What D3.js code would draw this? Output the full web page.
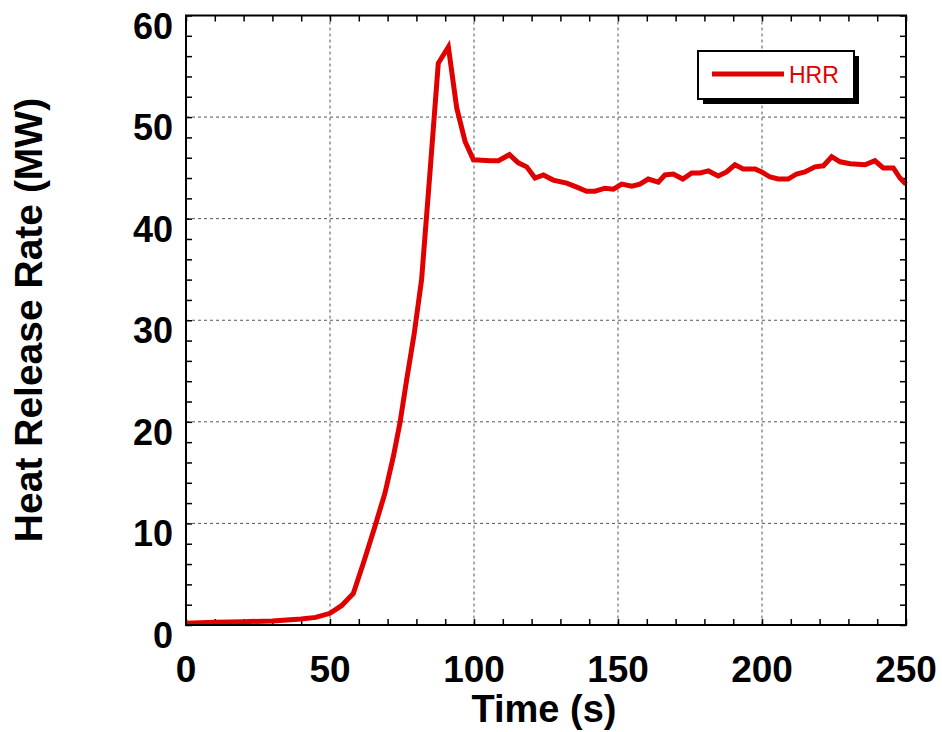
<!DOCTYPE html>
<html>
<head>
<meta charset="utf-8">
<script src="https://cdn.jsdelivr.net/npm/d3@7"></script>
<style>
  html, body { margin: 0; padding: 0; background: #fff; }
  svg { display: block; }
  text { font-family: Arial, "Liberation Sans", Helvetica, sans-serif; }
</style>
</head>
<body>
<svg id="chart" width="942" height="732"></svg>
<script>
// ---- data ----
const seriesName = "HRR";
const timeS = [0, 10, 20, 30, 40, 45, 50, 54, 58.1, 61.6, 65.6, 69.1, 72, 74.3, 76.6, 79.2, 81.8, 84.7, 87.6, 91.1, 94, 96.9, 99.8, 102.7, 105.6, 108.5, 112.3, 115.4, 118.3, 121.2, 124.1, 127.5, 132.2, 135.7, 139.1, 142, 145.5, 148.4, 151.3, 154.8, 157.6, 160.5, 164, 166.3, 169.2, 172.5, 175.6, 178.5, 181.4, 184.8, 187.7, 190.6, 193.5, 197.6, 199.9, 202.8, 205.7, 209.1, 212, 214.9, 218.4, 221.3, 224.2, 227.1, 230.6, 235.8, 239.2, 242.1, 245.6, 247.9, 250];
const hrrMW = [0.17, 0.27, 0.33, 0.4, 0.6, 0.75, 1.15, 1.9, 3.1, 6.1, 9.7, 13.0, 16.6, 19.9, 24.1, 28.6, 34.0, 44.5, 55.3, 56.9, 50.9, 47.6, 45.8, 45.75, 45.7, 45.7, 46.3, 45.5, 45.1, 44.0, 44.3, 43.8, 43.5, 43.1, 42.7, 42.7, 43.0, 42.9, 43.4, 43.2, 43.4, 43.9, 43.6, 44.3, 44.4, 43.9, 44.5, 44.5, 44.7, 44.2, 44.6, 45.3, 44.9, 44.9, 44.6, 44.1, 43.9, 43.9, 44.4, 44.6, 45.1, 45.2, 46.1, 45.6, 45.4, 45.3, 45.7, 45.0, 45.0, 44.0, 43.4];
const xTicks = [0, 50, 100, 150, 200, 250];
const yTicks = [0, 10, 20, 30, 40, 50, 60];
const xMinor = d3.range(0, 251, 10);
const yMinor = d3.range(0, 61, 2);

// ---- layout ----
const L = 186, R = 906, T = 15.5, B = 625;
const svg = d3.select("#chart");
const x = d3.scaleLinear().domain([0, 250]).range([L, R]);
const y = d3.scaleLinear().domain([0, 60]).range([B, T]);

// grid
const grid = svg.append("g").attr("stroke", "#555").attr("stroke-width", 1).attr("stroke-dasharray", "3,3");
grid.selectAll("line.gx").data(xTicks.slice(1, -1)).join("line")
  .attr("x1", d => x(d)).attr("x2", d => x(d)).attr("y1", T).attr("y2", B);
grid.selectAll("line.gy").data(yTicks.slice(1, -1)).join("line")
  .attr("y1", d => y(d)).attr("y2", d => y(d)).attr("x1", L).attr("x2", R);

// minor/major ticks inward on all four sides using d3 axes
const tl = 6;
svg.append("g").attr("transform", `translate(0,${B})`)
  .call(d3.axisTop(x).tickValues(xMinor).tickSize(tl).tickFormat(""))
  .call(g => g.select(".domain").remove());
svg.append("g").attr("transform", `translate(0,${T})`)
  .call(d3.axisBottom(x).tickValues(xMinor).tickSize(tl).tickFormat(""))
  .call(g => g.select(".domain").remove());
svg.append("g").attr("transform", `translate(${L},0)`)
  .call(d3.axisRight(y).tickValues(yMinor).tickSize(tl).tickFormat(""))
  .call(g => g.select(".domain").remove());
svg.append("g").attr("transform", `translate(${R},0)`)
  .call(d3.axisLeft(y).tickValues(yMinor).tickSize(tl).tickFormat(""))
  .call(g => g.select(".domain").remove());
svg.selectAll(".tick line").attr("stroke", "#000").attr("stroke-width", 1.5);

// tick labels
svg.append("g").selectAll("text").data(xTicks).join("text")
  .attr("x", d => x(d)).attr("y", 681.5)
  .attr("text-anchor", "middle")
  .attr("font-size", 37).attr("font-weight", "bold").attr("fill", "#000")
  .text(d => d);
svg.append("g").selectAll("text").data(yTicks).join("text")
  .attr("x", 173).attr("y", d => y(d) + 23)
  .attr("text-anchor", "end")
  .attr("font-size", 36).attr("font-weight", "bold").attr("fill", "#000")
  .text(d => d);

// axis titles
svg.append("text").attr("x", 544).attr("y", 721.5).attr("text-anchor", "middle")
  .attr("font-size", 38).attr("font-weight", "bold").text("Time (s)");
svg.append("text").attr("transform", "translate(42,320) rotate(-90)").attr("text-anchor", "middle")
  .attr("font-size", 39).attr("font-weight", "bold").text("Heat Release Rate (MW)");

// line
const line = d3.line().x((d, i) => x(timeS[i])).y(d => y(d));
svg.append("path").datum(hrrMW)
  .attr("d", line)
  .attr("fill", "none").attr("stroke", "#e00000").attr("stroke-width", 5)
  .attr("stroke-linejoin", "miter");

// frame
svg.append("rect").attr("x", L).attr("y", T).attr("width", R - L).attr("height", B - T)
  .attr("fill", "none").attr("stroke", "#000").attr("stroke-width", 2);

// legend
const lg = svg.append("g");
lg.append("rect").attr("x", 703).attr("y", 56).attr("width", 156).attr("height", 48).attr("fill", "#000");
lg.append("rect").attr("x", 698).attr("y", 51).attr("width", 156).attr("height", 48)
  .attr("fill", "#fff").attr("stroke", "#000").attr("stroke-width", 2);
lg.append("line").attr("x1", 712).attr("x2", 784).attr("y1", 74).attr("y2", 74)
  .attr("stroke", "#e00000").attr("stroke-width", 5);
lg.append("text").attr("x", 789).attr("y", 83).attr("font-size", 23).attr("fill", "#e00000").text(seriesName);
</script>
</body>
</html>
